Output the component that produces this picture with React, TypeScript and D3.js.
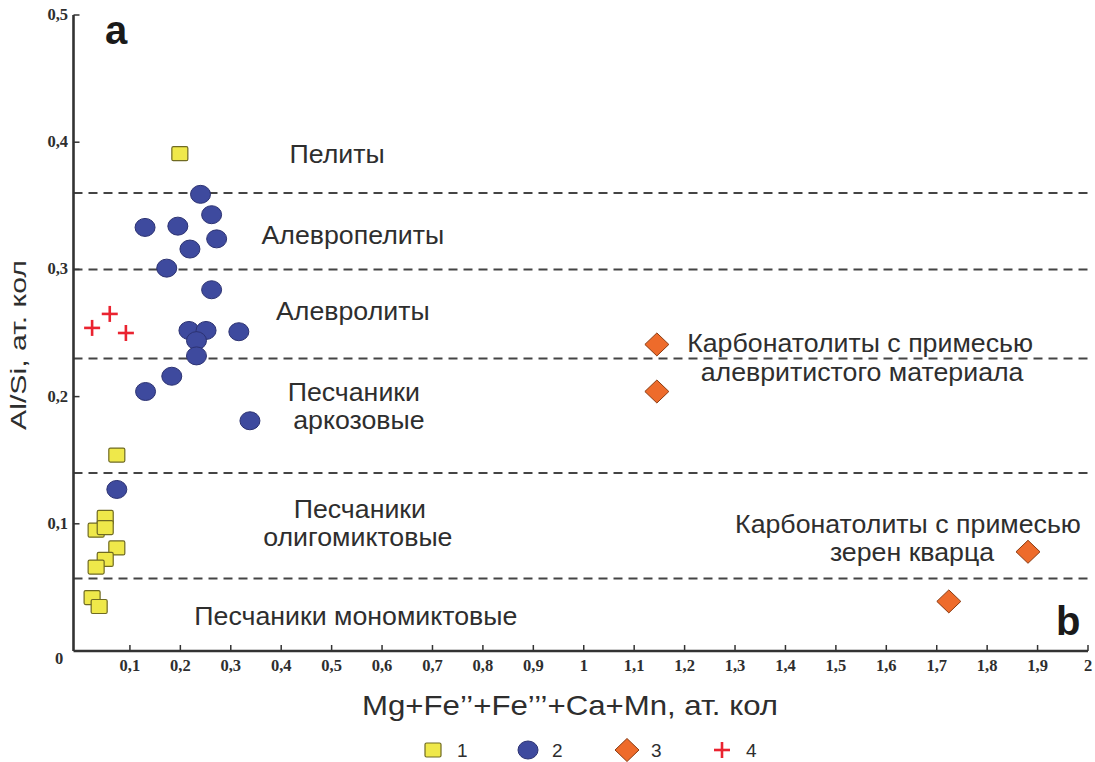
import React from 'react';
import * as d3 from 'd3';

// series: [x, y]
const series1 = [
  [0.199, 0.391], [0.074, 0.154], [0.051, 0.105], [0.033, 0.095], [0.051, 0.097],
  [0.074, 0.081], [0.051, 0.072], [0.033, 0.066], [0.025, 0.042], [0.039, 0.035],
];
const series2 = [
  [0.240, 0.359], [0.262, 0.343], [0.130, 0.333], [0.195, 0.334], [0.272, 0.324],
  [0.219, 0.316], [0.173, 0.301], [0.262, 0.284], [0.217, 0.252], [0.251, 0.252],
  [0.232, 0.244], [0.316, 0.251], [0.232, 0.232], [0.183, 0.216], [0.131, 0.204],
  [0.338, 0.181], [0.074, 0.127],
];
const series3 = [[1.145, 0.241], [1.145, 0.204], [1.881, 0.078], [1.724, 0.039]];
const series4 = [[0.025, 0.254], [0.060, 0.265], [0.092, 0.250]];

const boundaries = [0.36, 0.30, 0.23, 0.14, 0.057];

const xTicks = d3.range(1, 21).map(i => i / 10);
const yTicks = [0.1, 0.2, 0.3, 0.4, 0.5];
const fmt = (v: number) => (Math.round(v * 10) % 10 === 0 ? String(Math.round(v)) : v.toFixed(1).replace('.', ','));

// field labels: text, x, y (baseline) in data units
const fieldLabels: [string, number, number][] = [
  ['Пелиты', 0.511, 0.384],
  ['Алевропелиты', 0.542, 0.320],
  ['Алевролиты', 0.542, 0.260],
  ['Песчаники', 0.544, 0.1965],
  ['аркозовые', 0.554, 0.1745],
  ['Песчаники', 0.556, 0.1046],
  ['олигомиктовые', 0.552, 0.0825],
  ['Песчаники мономиктовые', 0.548, 0.0204],
  ['Карбонатолиты с примесью', 1.548, 0.235],
  ['алевритистого материала', 1.552, 0.212],
  ['Карбонатолиты с примесью', 1.643, 0.0928],
  ['зерен кварца', 1.651, 0.0708],
];

const legendItems = ['1', '2', '3', '4'];

const W = 1095;
const H = 762;
const x = d3.scaleLinear().domain([0, 2]).range([79.5, 1088]);
const y = d3.scaleLinear().domain([0, 0.5]).range([651, 15]);
const axisX = x(0) - 6;

const YELLOW = '#efe84a';
const BLUE = '#3e4a9e';
const ORANGE = '#ee6b2b';
const RED = '#ea2330';
const TXT = '#2e2e2e';
const SANS = '"Liberation Sans", Arial, sans-serif';
const SERIF = '"Liberation Serif", "Times New Roman", serif';

const Square = ({ cx, cy }: { cx: number; cy: number }) => (
  <rect x={cx - 8} y={cy - 7} width={16} height={14} rx={1.5} fill={YELLOW} stroke="#6f6a22" strokeWidth={1.2} />
);
const Circle = ({ cx, cy }: { cx: number; cy: number }) => (
  <ellipse cx={cx} cy={cy} rx={10} ry={9} fill={BLUE} stroke="#2c3272" strokeWidth={1} />
);
const Diamond = ({ cx, cy }: { cx: number; cy: number }) => (
  <path d={`M${cx},${cy - 11.5}L${cx + 12},${cy}L${cx},${cy + 11.5}L${cx - 12},${cy}Z`} fill={ORANGE} stroke="#8a3b12" strokeWidth={1} />
);
const Cross = ({ cx, cy }: { cx: number; cy: number }) => (
  <g stroke={RED} strokeWidth={2.6}>
    <line x1={cx - 8} x2={cx + 8} y1={cy} y2={cy} />
    <line x1={cx} x2={cx} y1={cy - 8} y2={cy + 8} />
  </g>
);
const markers = [Square, Circle, Diamond, Cross];

export default function App() {
  const legendX = [433, 528, 627, 722];
  return (
    <svg width={W} height={H} style={{ position: 'absolute', left: 0, top: 0, background: '#fff' }}>
      {/* boundaries */}
      {boundaries.map(b => (
        <line key={b} x1={axisX} x2={x(2)} y1={y(b)} y2={y(b)} stroke="#444" strokeWidth={2} strokeDasharray="9,6" />
      ))}

      {/* axes */}
      <line x1={axisX} x2={axisX} y1={y(0)} y2={y(0.5)} stroke="#333" strokeWidth={2.6} />
      <line x1={axisX} x2={x(2)} y1={y(0)} y2={y(0)} stroke="#333" strokeWidth={2.6} />
      {xTicks.map(t => (
        <g key={t}>
          <line x1={x(t)} x2={x(t)} y1={y(0)} y2={y(0) - 6} stroke="#333" strokeWidth={1.5} />
          <text x={x(t)} y={671} textAnchor="middle" fontFamily={SERIF} fontWeight="bold" fontSize={16.5} fill={TXT}>{fmt(t)}</text>
        </g>
      ))}
      {yTicks.map(t => (
        <g key={t}>
          <line x1={axisX} x2={axisX + 6} y1={y(t)} y2={y(t)} stroke="#333" strokeWidth={1.5} />
          <text x={68} y={y(t) + 5} textAnchor="end" fontFamily={SERIF} fontWeight="bold" fontSize={16.5} fill={TXT}>{fmt(t)}</text>
        </g>
      ))}
      <text x={59} y={664} textAnchor="middle" fontFamily={SERIF} fontWeight="bold" fontSize={16.5} fill={TXT}>0</text>

      {/* field labels */}
      {fieldLabels.map(([t, lx, ly], i) => (
        <text key={i} transform={`translate(${x(lx)},${y(ly)}) scale(1.07,1)`} textAnchor="middle" fontFamily={SANS} fontSize={25} fill={TXT}>{t}</text>
      ))}

      {/* points */}
      {series1.map(([a, b], i) => <Square key={'s1' + i} cx={x(a)} cy={y(b)} />)}
      {series2.map(([a, b], i) => <Circle key={'s2' + i} cx={x(a)} cy={y(b)} />)}
      {series3.map(([a, b], i) => <Diamond key={'s3' + i} cx={x(a)} cy={y(b)} />)}
      {series4.map(([a, b], i) => <Cross key={'s4' + i} cx={x(a)} cy={y(b)} />)}

      {/* panel letters */}
      <text x={105} y={44} fontFamily={SANS} fontWeight="bold" fontSize={40} fill="#1a1a1a">a</text>
      <text x={1056} y={635} fontFamily={SANS} fontWeight="bold" fontSize={40} fill="#1a1a1a">b</text>

      {/* axis titles */}
      <text x={570} y={715} textAnchor="middle" fontFamily={SANS} fontSize={28} fill={TXT} textLength={416} lengthAdjust="spacingAndGlyphs">
        Mg+Fe’’+Fe’’’+Ca+Mn, ат. кол
      </text>
      <text transform="translate(26,345) rotate(-90)" textAnchor="middle" fontFamily={SANS} fontSize={22} fill={TXT} textLength={170} lengthAdjust="spacingAndGlyphs">
        Al/Si, ат. кол
      </text>

      {/* legend */}
      {legendItems.map((lab, i) => {
        const M = markers[i];
        return (
          <g key={lab}>
            <M cx={legendX[i]} cy={750} />
            <text x={legendX[i] + 24} y={757} fontFamily={SANS} fontSize={19} fill={TXT}>{lab}</text>
          </g>
        );
      })}
    </svg>
  );
}
